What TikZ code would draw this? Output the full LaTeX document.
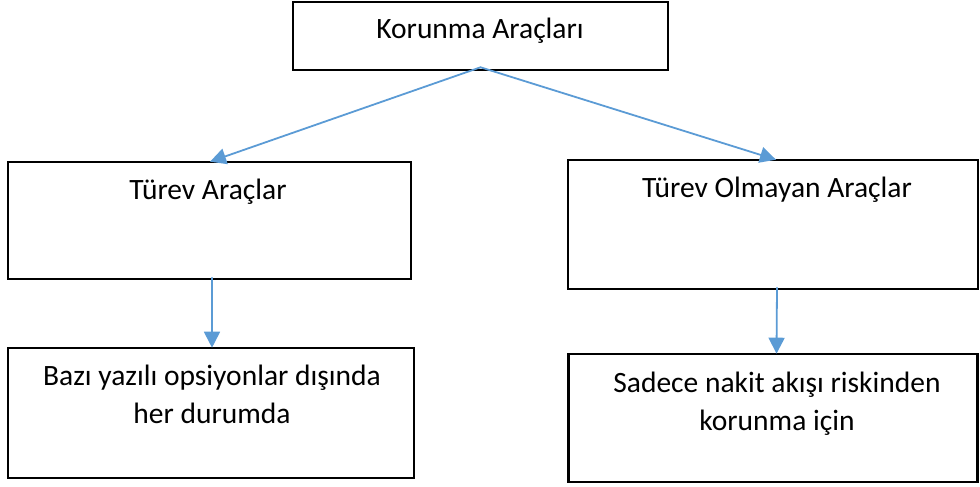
\documentclass[tikz,border=0pt]{standalone}
\usepackage{fontspec}
\setmainfont{Carlito}
\usetikzlibrary{arrows.meta}
\definecolor{linkblue}{RGB}{91,155,213}
\begin{document}
\begin{tikzpicture}[x=1pt,y=-1pt,
  box/.style={draw=black,line width=2.6pt,rectangle,inner sep=0pt},
  lbl/.style={inner sep=0pt,anchor=base,font=\fontsize{29.5}{38}\selectfont,align=center},
  link/.style={draw=linkblue,line width=1.8pt,line cap=round,-{Triangle[length=16pt,width=16pt]}}]
\useasboundingbox (0,0) rectangle (980,487);
% boxes
\node[box,minimum width=375pt,minimum height=68pt] (top) at (480.5,36) {};
\node[box,minimum width=403pt,minimum height=117pt] (der) at (209.5,220.5) {};
\node[box,minimum width=410pt,minimum height=129pt] (nonder) at (773,224.5) {};
\node[box,minimum width=406pt,minimum height=130pt] (derx) at (211,413) {};
\node[box,minimum width=409pt,minimum height=128pt] (nonderx) at (773,418) {};
% texts
\node[lbl] (ttop) at (480,39) {Korunma Araçları};
\node[lbl] (tder) at (208,199) {Türev Araçlar};
\node[lbl] (tnonder) at (777,197) {Türev Olmayan Araçlar};
\node[lbl] (tderx) at (212,423) {Bazı yazılı opsiyonlar dışında\\her durumda};
\node[lbl] (tnonderx) at (777,430) {Sadece nakit akışı riskinden\\korunma için};
% connectors
\coordinate (fork) at ([yshift=4pt]top.south);
\draw[link] (fork) -- ([xshift=0.5pt,yshift=-1pt]der.north);
\draw[link] (fork) -- ([xshift=3pt,yshift=-1pt]nonder.north);
\draw[link] ([xshift=2.5pt,yshift=2.5pt]der.south) -- ([xshift=1pt,yshift=-1pt]derx.north);
\draw[link] ([xshift=4pt,yshift=2.5pt]nonder.south) -- ([xshift=3.5pt,yshift=-1pt]nonderx.north);
\end{tikzpicture}
\end{document}
